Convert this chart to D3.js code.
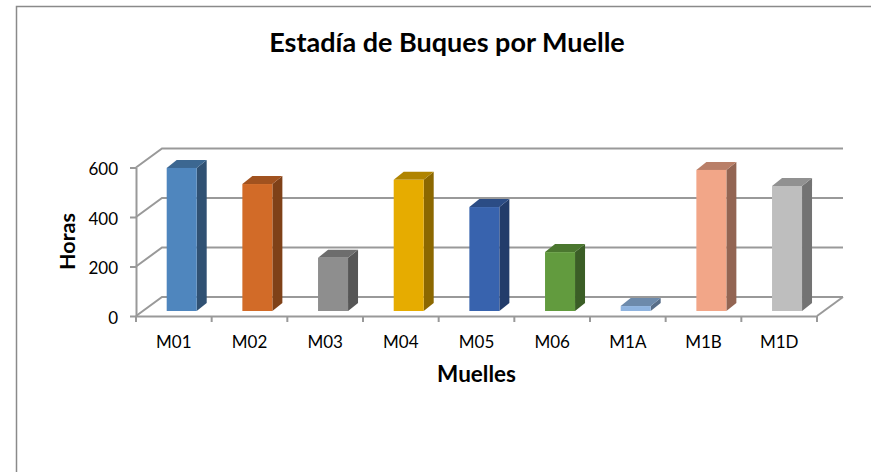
<!DOCTYPE html>
<html>
<head>
<meta charset="utf-8">
<script src="https://cdn.jsdelivr.net/npm/d3@7"></script>
<style>
    html, body { margin: 0; padding: 0; background: #fff; }
    text { font-family: Lato, "Open Sans", sans-serif; fill: #000; }
</style>
</head>
<body>
<div id="chart-area"></div>
<script>
const muelles = ["M01", "M02", "M03", "M04", "M05", "M06", "M1A", "M1B", "M1D"];
const horas = [578, 513, 215, 530, 420, 238, 20, 570, 505];
const colores = ["#4f86be", "#d26b28", "#8e8e8e", "#e6ac00", "#3863ae", "#629b3e", "#8fb4e0", "#f2a688", "#bebebe"];
const ticksHoras = [0, 200, 400, 600];

const width = 871;
const height = 472;

const svg = d3.select("#chart-area")
    .append("svg")
    .attr("width", width)
    .attr("height", height)
    .style("display", "block");

// chart frame
svg.append("path")
    .attr("d", "M16.5,472V6.5H871")
    .attr("fill", "none")
    .attr("stroke", "#8a8a8a")
    .attr("stroke-width", 1.5);

// front edge of the floor, the walls sit behind it
const x = d3.scaleBand().domain(muelles).range([136, 817]);
const y = d3.scaleLinear().domain([0, 600]).range([316, 167.5]);
const wall = { dx: 26, dy: -19 };
const bar = { dx: 10, dy: -8, width: 30, left: 30.7, lift: 5 };

const grid = "#999";

const g = svg.append("g").attr("fill", "none").attr("stroke", grid).attr("stroke-width", 2);

g.selectAll(".back")
    .data(ticksHoras)
    .enter()
    .append("path")
    .attr("class", "back")
    .attr("d", d => `M${x.range()[0]},${y(d)}l${wall.dx},${wall.dy}H${x.range()[1] + wall.dx}`);

g.append("path")
    .attr("d", `M${x.range()[1]},${y(0)}l${wall.dx},${wall.dy}`);

const yAxis = d3.axisLeft(y).tickValues(ticksHoras).tickSize(6).tickPadding(12).tickSizeOuter(0);
const yG = svg.append("g")
    .attr("transform", `translate(${x.range()[0]},0)`)
    .call(yAxis);

const xAxis = d3.axisBottom(x).tickSize(0).tickPadding(20);
const xG = svg.append("g")
    .attr("transform", `translate(0,${y(0)})`)
    .call(xAxis);

xG.selectAll(".edge")
    .data(d3.range(muelles.length + 1))
    .enter()
    .append("line")
    .attr("class", "edge")
    .attr("x1", i => i < muelles.length ? x(muelles[i]) : x.range()[1])
    .attr("x2", i => i < muelles.length ? x(muelles[i]) : x.range()[1])
    .attr("y1", 0)
    .attr("y2", 6);

svg.selectAll(".domain, .tick line, .edge")
    .attr("stroke", grid)
    .attr("stroke-width", 2);

svg.selectAll(".tick text")
    .attr("font-size", "17px")
    .attr("fill", "#000");

yG.selectAll(".tick text").attr("dy", "0.42em");

// bars: front, side and top faces
const bars = svg.selectAll(".bar")
    .data(muelles.map((m, i) => ({ m, h: horas[i], c: colores[i] })))
    .enter()
    .append("g")
    .attr("class", "bar")
    .attr("transform", d => `translate(${x(d.m) + bar.left},${-bar.lift})`);

bars.append("path")
    .attr("d", d => `M${bar.width},${y(d.h)}l${bar.dx},${bar.dy}V${y(0) + bar.dy}l${-bar.dx},${-bar.dy}Z`)
    .attr("fill", d => d3.rgb(d.c).darker(1.4));

bars.append("path")
    .attr("d", d => `M0,${y(d.h)}l${bar.dx},${bar.dy}h${bar.width}l${-bar.dx},${-bar.dy}Z`)
    .attr("fill", d => d3.rgb(d.c).darker(0.75));

bars.append("rect")
    .attr("x", 0)
    .attr("y", d => y(d.h))
    .attr("width", bar.width)
    .attr("height", d => y(0) - y(d.h))
    .attr("fill", d => d.c);

svg.append("text")
    .attr("x", 447)
    .attr("y", 52)
    .attr("text-anchor", "middle")
    .attr("font-size", "27px")
    .attr("font-weight", "bold")
    .text("Estadía de Buques por Muelle");

svg.append("text")
    .attr("x", 476.5)
    .attr("y", 382)
    .attr("text-anchor", "middle")
    .attr("font-size", "22.5px")
    .attr("font-weight", "bold")
    .text("Muelles");

svg.append("text")
    .attr("transform", "translate(75,241.5) rotate(-90)")
    .attr("text-anchor", "middle")
    .attr("font-size", "21.5px")
    .attr("font-weight", "bold")
    .text("Horas");
</script>
</body>
</html>
